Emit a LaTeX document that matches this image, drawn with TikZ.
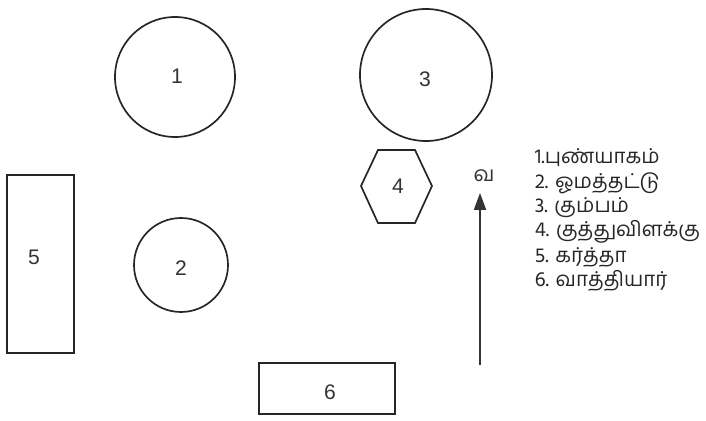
\documentclass[tikz,border=0pt]{standalone}
\usepackage{fontspec}
\setmainfont{Liberation Sans}
\newfontfamily\tamilfont[Script=Tamil]{Hind Madurai}
\usetikzlibrary{arrows.meta}

\tikzset{
  num/.style={font=\fontsize{15}{18}\selectfont, text=black!80},
  key/.style={anchor=west, font=\tamilfont\fontsize{14.6}{18}\selectfont, text=black!85, inner sep=0pt}
}

\begin{document}
\begin{tikzpicture}[x=0.025cm, y=-0.025cm, line width=1.2pt]
        \useasboundingbox (0,0) rectangle (706,421);

        % the two big vessels at the top
        \draw[black!85] (175,77) circle (60);
        \draw[black!85] (426,75) circle (66);
        \node[num] (one) at (177,76) {1};
        \node[num] (three) at (425,79) {3};

        % lamp
        \draw[black!85] (361,186) -- (378,150) -- (415,150) -- (432,186) -- (415,223) -- (378,223) -- cycle;
        \node[num] (four) at (398,186) {4};

        % plate and the seat on the left
        \draw[black!85] (181,265) circle (47);
        \node[num] (two) at (181,268) {2};
        \draw[black!85] (7,175) rectangle (74,353);
        \node[num] (five) at (34,257) {5};

        % priest's seat
        \draw[black!85] (259,363) rectangle (395,414);
        \node[num] (six) at (330,392) {6};

        % direction mark
        \coordinate (tail) at (480,365);
        \coordinate (tip) at (480,193);
        \draw[black!80, -{Triangle[length=4.2mm, width=3mm]}] (tail) -- (tip);
        \node[num, font=\tamilfont\fontsize{15}{18}\selectfont] (north) at (484,176) {வ};

        % legend
        \node[key] (k1) at (534,158) {1.புண்யாகம்};
        \node[key] (k2) at (534,183) {2. ஓமத்தட்டு};
        \node[key] (k3) at (534,208) {3. கும்பம்};
        \node[key] (k4) at (534,232) {4. குத்துவிளக்கு};
        \node[key] (k5) at (534,257) {5. கர்த்தா};
        \node[key] (k6) at (534,281) {6. வாத்தியார்};
      \end{tikzpicture}
\end{document}
